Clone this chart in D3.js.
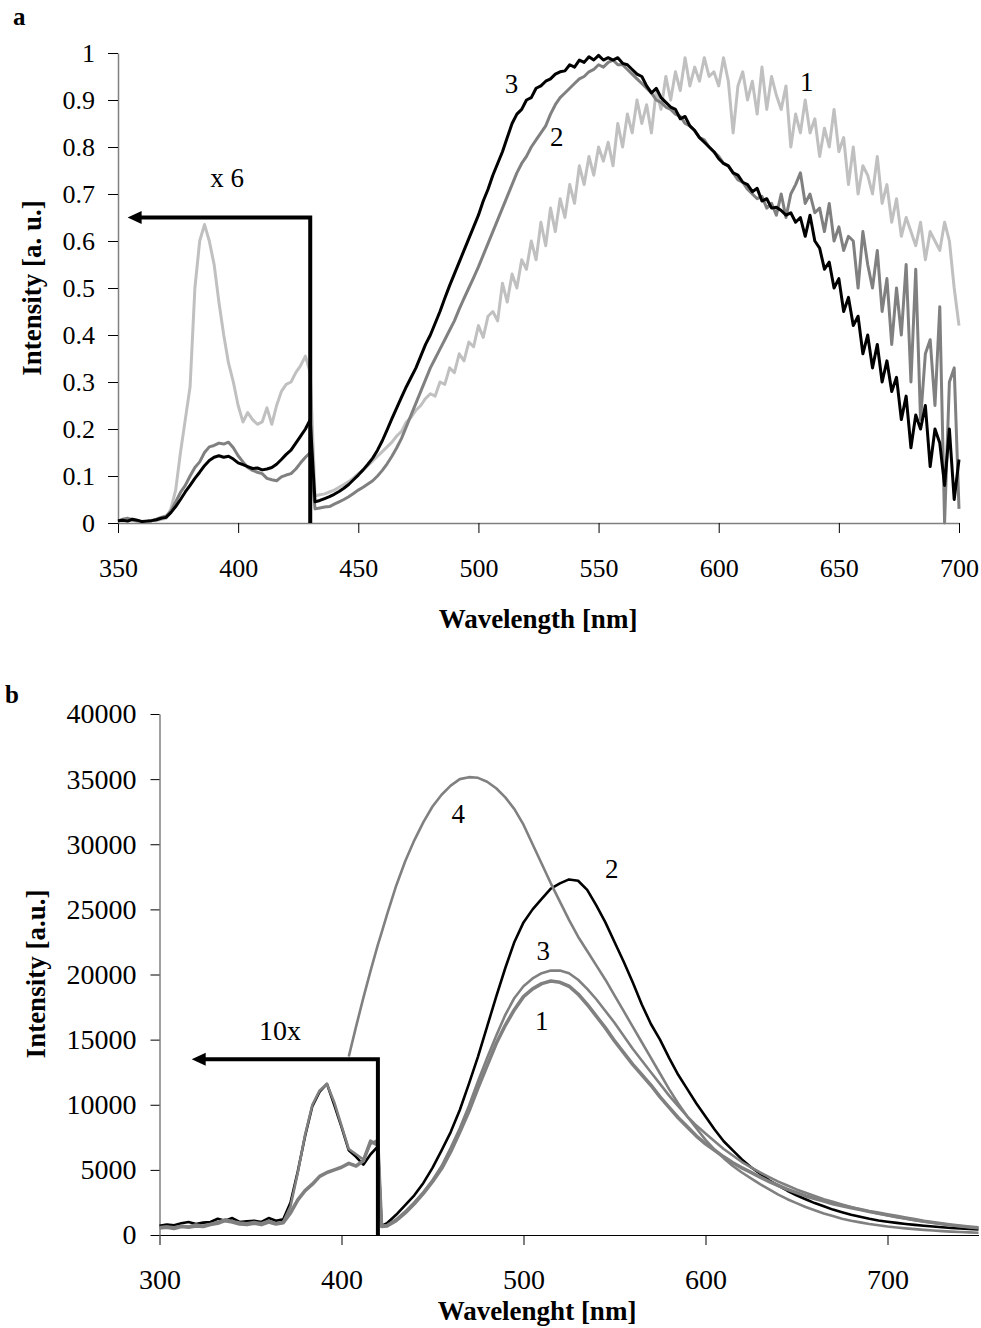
<!DOCTYPE html>
<html>
<head>
<meta charset="utf-8">
<script src="https://cdn.jsdelivr.net/npm/d3@7"></script>
<style>
  body { margin: 0; background: #fff; }
  svg { display: block; }
</style>
</head>
<body>
<svg></svg>
<script>
// ---------- panel a : 350-700 nm, 2 nm grid (values left of 430 nm are x6) ----------
const waveA = d3.range(350, 701, 2);
const xTicksA = [350, 400, 450, 500, 550, 600, 650, 700];
const yTicksA = [0, 0.1, 0.2, 0.3, 0.4, 0.5, 0.6, 0.7, 0.8, 0.9, 1];

// curve 1 (light grey)
const a1 = [
  .005,.004,.010,.008,.005,.003,.004,.006,.005,.008, // 350
  .010,.030,.070,.150,.220,.290,.500,.600,.635,.600, // 370
  .550,.470,.400,.340,.300,.250,.215,.235,.220,.210, // 390
  .215,.245,.210,.250,.280,.295,.300,.320,.335,.355, // 410
  .320,.058,.060,.062,.066,.070,.076,.082,.088,.096, // 430
  .105,.112,.122,.132,.142,.152,.162,.172,.185,.195, // 450
  .215,.225,.240,.250,.265,.275,.270,.300,.295,.330, // 470
  .320,.360,.345,.385,.375,.420,.395,.440,.450,.430, // 490
  .510,.470,.530,.500,.560,.540,.600,.560,.640,.590, // 510
  .670,.620,.690,.650,.720,.680,.760,.720,.780,.740, // 530
  .800,.770,.810,.760,.850,.800,.870,.830,.900,.850, // 550
  .890,.830,.920,.880,.950,.900,.960,.920,.990,.930, // 570
  .970,.940,.990,.950,.960,.930,.990,.940,.830,.930, // 590
  .960,.900,.940,.870,.970,.880,.950,.910,.880,.930, // 610
  .800,.870,.830,.900,.830,.860,.780,.840,.800,.880, // 630
  .790,.820,.720,.800,.700,.760,.740,.700,.780,.680, // 650
  .720,.640,.690,.610,.650,.620,.590,.640,.560,.620, // 670
  .600,.580,.640,.600,.500,.420                      // 690
];
// curve 2 (grey)
const a2 = [
  .004,.008,.010,.006,.004,.003,.004,.005,.008,.012, // 350
  .015,.025,.045,.065,.080,.100,.118,.130,.150,.162, // 370
  .165,.170,.168,.172,.160,.143,.130,.118,.112,.108, // 390
  .105,.095,.092,.090,.098,.102,.105,.115,.128,.140, // 410
  .150,.030,.032,.034,.035,.040,.045,.050,.056,.063, // 430
  .070,.076,.083,.090,.100,.112,.126,.142,.160,.180, // 450
  .205,.230,.255,.280,.305,.330,.350,.370,.390,.410, // 470
  .430,.455,.478,.500,.522,.545,.570,.595,.620,.645, // 490
  .670,.695,.720,.745,.765,.780,.800,.815,.830,.845, // 510
  .870,.890,.905,.915,.925,.935,.945,.950,.960,.965, // 530
  .975,.970,.980,.985,.975,.975,.965,.955,.945,.935, // 550
  .925,.915,.900,.895,.885,.880,.870,.865,.850,.845, // 570
  .835,.820,.815,.800,.790,.780,.765,.760,.745,.730, // 590
  .725,.710,.700,.690,.695,.670,.680,.655,.700,.650, // 610
  .700,.720,.745,.680,.700,.660,.670,.620,.680,.600, // 630
  .630,.580,.610,.600,.500,.620,.550,.500,.580,.450, // 650
  .520,.380,.500,.400,.550,.300,.540,.220,.360,.390, // 670
  .250,.460,.000,.300,.330,.030                      // 690
];
// curve 3 (black)
const a3 = [
  .005,.006,.004,.008,.006,.003,.004,.005,.007,.010, // 350
  .012,.022,.035,.050,.066,.080,.095,.108,.122,.133, // 370
  .140,.143,.140,.142,.136,.128,.124,.120,.116,.117, // 390
  .113,.115,.118,.125,.135,.146,.155,.170,.185,.200, // 410
  .220,.045,.048,.052,.056,.061,.067,.074,.082,.092, // 430
  .102,.113,.125,.138,.155,.175,.198,.222,.245,.268, // 450
  .290,.310,.330,.355,.380,.400,.425,.450,.478,.505, // 470
  .530,.555,.580,.605,.630,.655,.685,.710,.740,.765, // 490
  .790,.820,.850,.870,.880,.900,.905,.925,.930,.940, // 510
  .945,.955,.960,.962,.975,.970,.985,.980,.992,.985, // 530
  .995,.985,.990,.985,.990,.978,.975,.965,.955,.950, // 550
  .930,.915,.925,.905,.895,.885,.880,.860,.865,.845, // 570
  .835,.820,.810,.800,.790,.775,.765,.760,.745,.740, // 590
  .725,.720,.705,.712,.685,.690,.670,.672,.665,.655, // 610
  .660,.640,.650,.610,.655,.600,.585,.540,.555,.500, // 630
  .520,.450,.480,.420,.440,.360,.400,.330,.380,.300, // 650
  .345,.280,.310,.220,.270,.160,.230,.200,.250,.120, // 670
  .200,.170,.080,.200,.050,.135                      // 690
];

// ---------- panel b : 300-750 nm (values left of 420 nm are x10) ----------
const waveB = [...d3.range(300, 421, 4), 422, ...d3.range(425, 751, 5)];
const xTicksB = [300, 400, 500, 600, 700];
const yTicksB = [0, 5000, 10000, 15000, 20000, 25000, 30000, 35000, 40000];

// curve 1 (grey, noisy)
const b1 = [
  550,600,500,650,600,700,650,800,900,1100,          // 300-336
  1000,850,800,900,800,1000,850,950,1700,2700,       // 340-376
  3400,3900,4500,4800,5000,5200,5500,5300,5700,7200, // 380-416
  6900, 650,                                         // 420, 422
  700,1100,1700,2400,3200,4100,5100,6400,7900,9500,            // 425
  11300,13000,14700,16100,17300,18300,18900,19300,19500,19400, // 475
  19100,18500,17700,16800,15900,14900,14000,13100,12300,11500, // 525
  10600,9800,9000,8300,7600,7000,6500,6000,5550,5150,          // 575
  4800,4450,4100,3800,3500,3250,3000,2800,2600,2400,           // 625
  2250,2100,1950,1800,1680,1560,1430,1300,1180,1060,           // 675
  960,860,770,690,620,560                                      // 725
];
// curve 2 (black)
const b2 = [
  700,800,750,900,1000,850,950,1000,1250,1100,
  1300,1000,1050,1100,1000,1300,1100,1200,2500,4900,
  7600,9900,11000,11600,10000,8300,6500,6000,5400,6200,
  6800, 700,
  900,1550,2300,3050,4000,5150,6500,7900,9600,11600,
  13700,16000,18300,20500,22500,24000,25000,25800,26600,27000,
  27300,27200,26500,25300,24000,22500,21000,19400,17700,16200,
  15000,13600,12300,11200,10100,9100,8100,7200,6500,5800,
  5200,4700,4200,3800,3400,3050,2750,2450,2200,1950,
  1750,1550,1400,1250,1120,1020,930,850,780,710,
  650,590,540,500,460,420
];
// curve 3 (grey)
const b3 = [
  600,650,600,700,650,800,700,850,1000,1200,
  1050,950,900,1000,900,1100,900,1000,2200,4800,
  7700,10000,11100,11600,10200,8400,6600,6200,5800,7000,
  7300, 700,
  750,1200,1800,2500,3300,4200,5300,6700,8200,9900,
  11800,13600,15300,16900,18200,19100,19700,20100,20300,20300,
  20100,19600,18900,18100,17200,16300,15300,14300,13400,12500,
  11600,10700,9900,9100,8400,7800,7200,6600,6100,5600,
  5200,4800,4450,4100,3800,3500,3250,3000,2750,2550,
  2350,2150,1950,1800,1650,1500,1370,1250,1140,1030,
  940,850,770,690,620,560
];
// curve 4 (grey, starts at 404 nm)
const b4 = [
  null,null,null,null,null,null,null,null,null,null,
  null,null,null,null,null,null,null,null,null,null,
  null,null,null,null,null,null,13700,16000,18200,20300,
  22300, 23200,
  24600,26800,28700,30300,31700,32900,33800,34500,35000,35150,
  35100,34800,34300,33600,32700,31500,30000,28500,27000,25600,
  24200,22900,21800,20700,19600,18400,17200,16000,14800,13600,
  12400,11200,10100,9100,8200,7300,6550,5900,5300,4800,
  4350,3900,3500,3100,2750,2450,2150,1900,1650,1450,
  1250,1100,970,850,750,650,580,510,450,390,
  340,300,260,230,200,170
];

const serif = '"Liberation Serif", "Times New Roman", serif';
const svg = d3.select('svg').attr('width', 981).attr('height', 1328);

function styleAxis(g, size) {
  g.attr('font-family', serif).attr('font-size', size);
  g.select('.domain').attr('stroke', '#808080').attr('stroke-width', 1.5);
  g.selectAll('.tick line').attr('stroke', '#000');
  g.selectAll('.tick text').attr('fill', '#000');
}

function arrow(g, x0, yBase, yTop, xTip) {
  g.append('path')
    .attr('d', `M${x0},${yBase}V${yTop}H${xTip + 10}`)
    .attr('fill', 'none').attr('stroke', '#000')
    .attr('stroke-width', 4).attr('stroke-linejoin', 'miter');
  g.append('path')
    .attr('d', `M${xTip},${yTop}l14,-6.5v13z`)
    .attr('fill', '#000');
}

function label(g, x, y, txt, size, bold) {
  return g.append('text').attr('x', x).attr('y', y)
    .attr('font-family', serif).attr('font-size', size)
    .attr('font-weight', bold ? 'bold' : 'normal')
    .attr('text-anchor', 'middle').text(txt);
}

// ================= panel a =================
const xA = d3.scaleLinear().domain([350, 700]).range([118, 959]);
const yA = d3.scaleLinear().domain([0, 1]).range([523, 53]);
const gA = svg.append('g');

gA.append('g').attr('transform', `translate(0,${yA(0)})`)
  .call(d3.axisBottom(xA).tickValues(xTicksA).tickSize(10).tickSizeOuter(0).tickPadding(26))
  .call(g => styleAxis(g, 26));
gA.append('g').attr('transform', `translate(${xA(350)},0)`)
  .call(d3.axisLeft(yA).tickValues(yTicksA).tickFormat(d3.format('~g'))
    .tickSize(10).tickSizeOuter(0).tickPadding(13))
  .call(g => styleAxis(g, 26));

const lineA = d3.line().x((d, i) => xA(waveA[i])).y(d => yA(d));
[[a1, '#c0c0c0'], [a2, '#808080'], [a3, '#000000']].forEach(([s, c]) => {
  gA.append('path').datum(s).attr('d', lineA)
    .attr('fill', 'none').attr('stroke', c).attr('stroke-width', 3)
    .attr('stroke-linejoin', 'round');
});

arrow(gA, xA(430), yA(0), yA(0.65), xA(354));
label(gA, xA(395.4), yA(0.715), 'x 6', 27);
label(gA, xA(513.8), yA(0.935) + 9, '3', 27);
label(gA, xA(532.6), yA(0.822) + 9, '2', 27);
label(gA, xA(636.6), yA(0.939) + 9, '1', 27);

gA.append('text').attr('x', 13).attr('y', 25).attr('font-family', serif)
  .attr('font-size', 25).attr('font-weight', 'bold').text('a');
label(gA, 538, 628, 'Wavelength [nm]', 27, true);
label(gA, 0, 0, 'Intensity [a. u.]', 27, true)
  .attr('transform', 'translate(41,288) rotate(-90)');

// ================= panel b =================
const xB = d3.scaleLinear().domain([300, 750]).range([159.5, 978.5]);
const yB = d3.scaleLinear().domain([0, 40000]).range([1235, 714]);
const gB = svg.append('g');

gB.append('g').attr('transform', `translate(0,${yB(0)})`)
  .call(d3.axisBottom(xB).tickValues(xTicksB).tickSize(10).tickSizeOuter(0).tickPadding(24))
  .call(g => styleAxis(g, 28))
  .call(g => g.select('.domain').attr('stroke', '#000').attr('stroke-width', 1.2));
gB.append('g').attr('transform', `translate(${xB(300)},0)`)
  .call(d3.axisLeft(yB).tickValues(yTicksB).tickFormat(d3.format('d'))
    .tickSize(9).tickSizeOuter(0).tickPadding(14))
  .call(g => styleAxis(g, 28));

const lineB = d3.line().defined(d => d != null).x((d, i) => xB(waveB[i])).y(d => yB(d));
[[b2, '#000000', 2.6], [b1, '#808080', 3.6], [b3, '#808080', 2.6], [b4, '#808080', 2.6]]
  .forEach(([s, c, w]) => {
    gB.append('path').datum(s).attr('d', lineB)
      .attr('fill', 'none').attr('stroke', c).attr('stroke-width', w)
      .attr('stroke-linejoin', 'round');
  });

arrow(gB, xB(420), yB(0), yB(13500), xB(317.7));
label(gB, xB(366.2), yB(15000), '10x', 28);
label(gB, xB(464.2), yB(32310) + 9, '4', 27);
label(gB, xB(548.5), yB(28080) + 9, '2', 27);
label(gB, xB(510.9), yB(21790) + 9, '3', 27);
label(gB, xB(510.0), yB(16410) + 9, '1', 27);

gB.append('text').attr('x', 5).attr('y', 703).attr('font-family', serif)
  .attr('font-size', 25).attr('font-weight', 'bold').text('b');
label(gB, 537, 1320, 'Wavelenght [nm]', 27, true);
label(gB, 0, 0, 'Intensity [a.u.]', 27, true)
  .attr('transform', 'translate(45,974) rotate(-90)');
</script>
</body>
</html>
